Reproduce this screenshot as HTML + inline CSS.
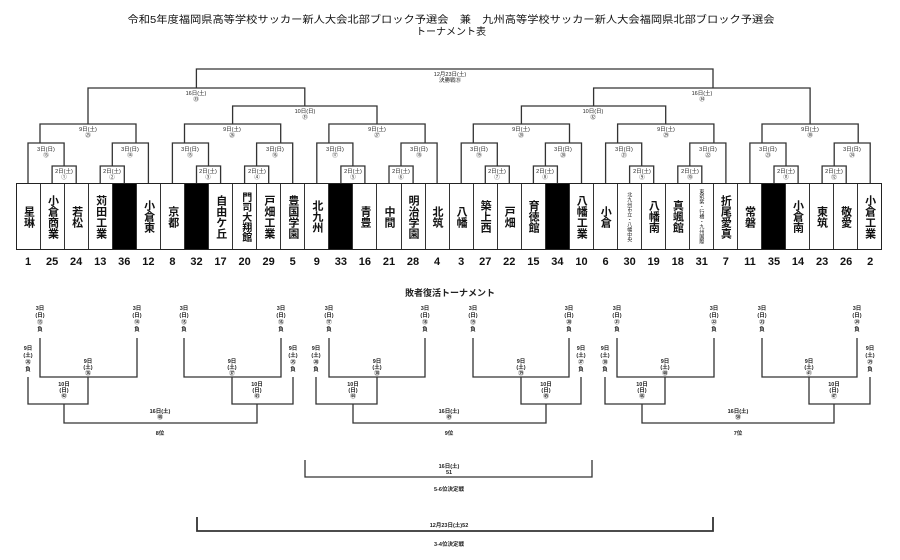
<!DOCTYPE html>
<html><head><meta charset="utf-8"><style>
html,body{margin:0;padding:0;background:#fff;}
body{width:900px;height:560px;position:relative;overflow:hidden;font-family:"Liberation Sans","Noto Sans CJK JP",sans-serif;}
svg{position:absolute;left:0;top:0;}
#teams{position:absolute;left:16px;top:183px;width:866px;height:67px;display:flex;border:1.3px solid #222;box-sizing:border-box;}
#teams div{flex:1;border-right:1px solid #333;display:flex;align-items:center;justify-content:center;writing-mode:vertical-rl;text-orientation:upright;font-size:11px;font-weight:bold;line-height:12px;color:#111;letter-spacing:0;}
#teams div:last-child{border-right:none;}
#teams div.b{background:#000;}
#teams div.s{font-size:5px;line-height:6px;font-weight:normal;}
#teams div.f{font-size:10px;}
#nums{position:absolute;left:16px;top:255px;width:866px;height:14px;display:flex;}
#nums div{flex:1;text-align:center;font-size:11px;font-weight:bold;color:#111;line-height:14px;}
</style></head><body>
<svg width="900" height="560" viewBox="0 0 900 560" font-family="Liberation Sans, Noto Sans CJK JP, sans-serif">
<text x="451" y="23" font-size="10" text-anchor="middle" textLength="647" lengthAdjust="spacingAndGlyphs" fill="#111">令和5年度福岡県高等学校サッカー新人大会北部ブロック予選会　兼　九州高等学校サッカー新人大会福岡県北部ブロック予選会</text>
<text x="451" y="35" font-size="10" text-anchor="middle" fill="#111">トーナメント表</text>
<g fill="none" stroke="#333" stroke-width="1.3">
<!-- group1 -->
<path d="M52.1 183V166H76.2V183M28 183V143H64.1V166M100.2 183V166H124.3V183M112.3 166V143H148.4V183M40 143V124H136V143"/>
<path d="M196.5 183V166H220.6V183M172.4 183V143H208.5V166M244.6 183V166H268.7V183M256.6 166V143H292.7V183M184.5 143V124H280.7V143"/>
<path d="M340.9 183V166H364.9V183M316.8 183V143H352.9V166M389 183V166H413.1V183M401 166V143H437.1V183M328.9 143V124H425.1V143"/>
<path d="M485.3 183V166H509.3V183M461.2 183V143H497.3V166M533.4 183V166H557.4V183M545.4 166V143H581.5V183M473.3 143V124H569.5V143"/>
<path d="M629.6 183V166H653.7V183M605.6 183V143H641.7V166M677.8 183V166H701.8V183M689.8 166V143H725.9V183M617.6 143V124H713.9V143"/>
<path d="M774 183V166H798.1V183M749.9 183V143H786V166M822.1 183V166H846.2V183M834.2 166V143H870.2V183M762 143V124H858.2V143"/>
<path d="M232.6 124V106H377V124M88 124V88H304.8V106M521.4 124V106H665.7V124M593.6 106V88H810.1V124M196.4 88V69H713V88"/>
<!-- lower -->
<path d="M40 338V377H137V338M28 377V404H88V377M184 338V377H281V338M232 377V404H293V377M64 404V423H257V404"/>
<path d="M329 338V377H425V338M316 377V404H377V377M473 338V377H569V338M521 377V404H581V377M353 404V423H546V404"/>
<path d="M617 338V377H714V338M605 377V404H665V377M762 338V377H857V338M809 377V404H870V377M642 404V423H834V404"/>
<path d="M305 460V477H592V460"/>
<path d="M197 517V531H713V517" stroke-width="1.8"/>
</g>
<g font-size="5.5" text-anchor="middle" fill="#222">
<text x="450" y="76">12月23日(土)</text><text x="450" y="82">決勝戦㉟</text>
<text x="196" y="95">16日(土)</text><text x="196" y="101">㉝</text>
<text x="702" y="95">16日(土)</text><text x="702" y="101">㉞</text>
<text x="305" y="113">10日(日)</text><text x="305" y="119">㉛</text>
<text x="593" y="113">10日(日)</text><text x="593" y="119">㉜</text>
<text x="88" y="131">9日(土)</text><text x="88" y="137">㉕</text>
<text x="232" y="131">9日(土)</text><text x="232" y="137">㉖</text>
<text x="377" y="131">9日(土)</text><text x="377" y="137">㉗</text>
<text x="521" y="131">9日(土)</text><text x="521" y="137">㉘</text>
<text x="666" y="131">9日(土)</text><text x="666" y="137">㉙</text>
<text x="810" y="131">9日(土)</text><text x="810" y="137">㉚</text>
<text x="46" y="151">3日(日)</text><text x="46" y="157">⑬</text>
<text x="130" y="151">3日(日)</text><text x="130" y="157">⑭</text>
<text x="190" y="151">3日(日)</text><text x="190" y="157">⑮</text>
<text x="275" y="151">3日(日)</text><text x="275" y="157">⑯</text>
<text x="335" y="151">3日(日)</text><text x="335" y="157">⑰</text>
<text x="419" y="151">3日(日)</text><text x="419" y="157">⑱</text>
<text x="479" y="151">3日(日)</text><text x="479" y="157">⑲</text>
<text x="563" y="151">3日(日)</text><text x="563" y="157">⑳</text>
<text x="624" y="151">3日(日)</text><text x="624" y="157">㉑</text>
<text x="708" y="151">3日(日)</text><text x="708" y="157">㉒</text>
<text x="768" y="151">3日(日)</text><text x="768" y="157">㉓</text>
<text x="852" y="151">3日(日)</text><text x="852" y="157">㉔</text>
<text x="64" y="173">2日(土)</text><text x="64" y="179">①</text>
<text x="112" y="173">2日(土)</text><text x="112" y="179">②</text>
<text x="208" y="173">2日(土)</text><text x="208" y="179">③</text>
<text x="257" y="173">2日(土)</text><text x="257" y="179">④</text>
<text x="353" y="173">2日(土)</text><text x="353" y="179">⑤</text>
<text x="401" y="173">2日(土)</text><text x="401" y="179">⑥</text>
<text x="497" y="173">2日(土)</text><text x="497" y="179">⑦</text>
<text x="545" y="173">2日(土)</text><text x="545" y="179">⑧</text>
<text x="642" y="173">2日(土)</text><text x="642" y="179">⑨</text>
<text x="690" y="173">2日(土)</text><text x="690" y="179">⑩</text>
<text x="786" y="173">2日(土)</text><text x="786" y="179">⑪</text>
<text x="834" y="173">2日(土)</text><text x="834" y="179">⑫</text>
</g>
<text x="450" y="296" font-size="9" font-weight="bold" text-anchor="middle" fill="#222">敗者復活トーナメント</text>
<g font-size="5.5" text-anchor="middle" fill="#222" font-weight="bold">
<!-- 3日 labels -->
<g><text x="40" y="310">3日</text><text x="40" y="317">(日)</text><text x="40" y="324">⑬</text><text x="40" y="331">負</text></g>
<g><text x="137" y="310">3日</text><text x="137" y="317">(日)</text><text x="137" y="324">⑭</text><text x="137" y="331">負</text></g>
<g><text x="184" y="310">3日</text><text x="184" y="317">(日)</text><text x="184" y="324">⑮</text><text x="184" y="331">負</text></g>
<g><text x="281" y="310">3日</text><text x="281" y="317">(日)</text><text x="281" y="324">⑯</text><text x="281" y="331">負</text></g>
<g><text x="329" y="310">3日</text><text x="329" y="317">(日)</text><text x="329" y="324">⑰</text><text x="329" y="331">負</text></g>
<g><text x="425" y="310">3日</text><text x="425" y="317">(日)</text><text x="425" y="324">⑱</text><text x="425" y="331">負</text></g>
<g><text x="473" y="310">3日</text><text x="473" y="317">(日)</text><text x="473" y="324">⑲</text><text x="473" y="331">負</text></g>
<g><text x="569" y="310">3日</text><text x="569" y="317">(日)</text><text x="569" y="324">⑳</text><text x="569" y="331">負</text></g>
<g><text x="617" y="310">3日</text><text x="617" y="317">(日)</text><text x="617" y="324">㉑</text><text x="617" y="331">負</text></g>
<g><text x="714" y="310">3日</text><text x="714" y="317">(日)</text><text x="714" y="324">㉒</text><text x="714" y="331">負</text></g>
<g><text x="762" y="310">3日</text><text x="762" y="317">(日)</text><text x="762" y="324">㉓</text><text x="762" y="331">負</text></g>
<g><text x="857" y="310">3日</text><text x="857" y="317">(日)</text><text x="857" y="324">㉔</text><text x="857" y="331">負</text></g>
<!-- 9日負 -->
<g><text x="28" y="350">9日</text><text x="28" y="357">(土)</text><text x="28" y="364">㉖</text><text x="28" y="371">負</text></g>
<g><text x="293" y="350">9日</text><text x="293" y="357">(土)</text><text x="293" y="364">㉕</text><text x="293" y="371">負</text></g>
<g><text x="316" y="350">9日</text><text x="316" y="357">(土)</text><text x="316" y="364">㉘</text><text x="316" y="371">負</text></g>
<g><text x="581" y="350">9日</text><text x="581" y="357">(土)</text><text x="581" y="364">㉗</text><text x="581" y="371">負</text></g>
<g><text x="605" y="350">9日</text><text x="605" y="357">(土)</text><text x="605" y="364">㉚</text><text x="605" y="371">負</text></g>
<g><text x="870" y="350">9日</text><text x="870" y="357">(土)</text><text x="870" y="364">㉙</text><text x="870" y="371">負</text></g>
<!-- 9日 matches -->
<g><text x="88" y="363">9日</text><text x="88" y="369">(土)</text><text x="88" y="375">㊱</text></g>
<g><text x="232" y="363">9日</text><text x="232" y="369">(土)</text><text x="232" y="375">㊲</text></g>
<g><text x="377" y="363">9日</text><text x="377" y="369">(土)</text><text x="377" y="375">㊳</text></g>
<g><text x="521" y="363">9日</text><text x="521" y="369">(土)</text><text x="521" y="375">㊴</text></g>
<g><text x="665" y="363">9日</text><text x="665" y="369">(土)</text><text x="665" y="375">㊵</text></g>
<g><text x="809" y="363">9日</text><text x="809" y="369">(土)</text><text x="809" y="375">㊶</text></g>
<!-- 10日 -->
<g><text x="64" y="386">10日</text><text x="64" y="392">(日)</text><text x="64" y="398">㊷</text></g>
<g><text x="257" y="386">10日</text><text x="257" y="392">(日)</text><text x="257" y="398">㊸</text></g>
<g><text x="353" y="386">10日</text><text x="353" y="392">(日)</text><text x="353" y="398">㊹</text></g>
<g><text x="546" y="386">10日</text><text x="546" y="392">(日)</text><text x="546" y="398">㊺</text></g>
<g><text x="642" y="386">10日</text><text x="642" y="392">(日)</text><text x="642" y="398">㊻</text></g>
<g><text x="834" y="386">10日</text><text x="834" y="392">(日)</text><text x="834" y="398">㊼</text></g>
<text x="160" y="413">16日(土)</text><text x="160" y="419">㊽</text><text x="160" y="435">8位</text>
<text x="449" y="413">16日(土)</text><text x="449" y="419">㊾</text><text x="449" y="435">9位</text>
<text x="738" y="413">16日(土)</text><text x="738" y="419">㊿</text><text x="738" y="435">7位</text>
<text x="449" y="468">16日(土)</text><text x="449" y="474">51</text><text x="449" y="491">5-6位決定戦</text>
<text x="449" y="527">12月23日(土)52</text><text x="449" y="546">3-4位決定戦</text>
</g>
</svg>
<div id="teams">
<div>星琳</div><div>小倉商業</div><div>若松</div><div>苅田工業</div><div class="b"></div><div>小倉東</div>
<div>京都</div><div class="b"></div><div>自由ケ丘</div><div class="f">門司大翔館</div><div>戸畑工業</div><div>豊国学園</div>
<div>北九州</div><div class="b"></div><div>青豊</div><div>中間</div><div>明治学園</div><div>北筑</div>
<div>八幡</div><div>築上西</div><div>戸畑</div><div>育徳館</div><div class="b"></div><div>八幡工業</div>
<div>小倉</div><div class="s">北九州市立・八幡中央</div><div>八幡南</div><div>真颯館</div><div class="s">東筑紫・行橋・九州国際</div><div>折尾愛真</div>
<div>常磐</div><div class="b"></div><div>小倉南</div><div>東筑</div><div>敬愛</div><div>小倉工業</div>
</div>
<div id="nums">
<div>1</div><div>25</div><div>24</div><div>13</div><div>36</div><div>12</div><div>8</div><div>32</div><div>17</div><div>20</div><div>29</div><div>5</div><div>9</div><div>33</div><div>16</div><div>21</div><div>28</div><div>4</div><div>3</div><div>27</div><div>22</div><div>15</div><div>34</div><div>10</div><div>6</div><div>30</div><div>19</div><div>18</div><div>31</div><div>7</div><div>11</div><div>35</div><div>14</div><div>23</div><div>26</div><div>2</div>
</div>
</body></html>
